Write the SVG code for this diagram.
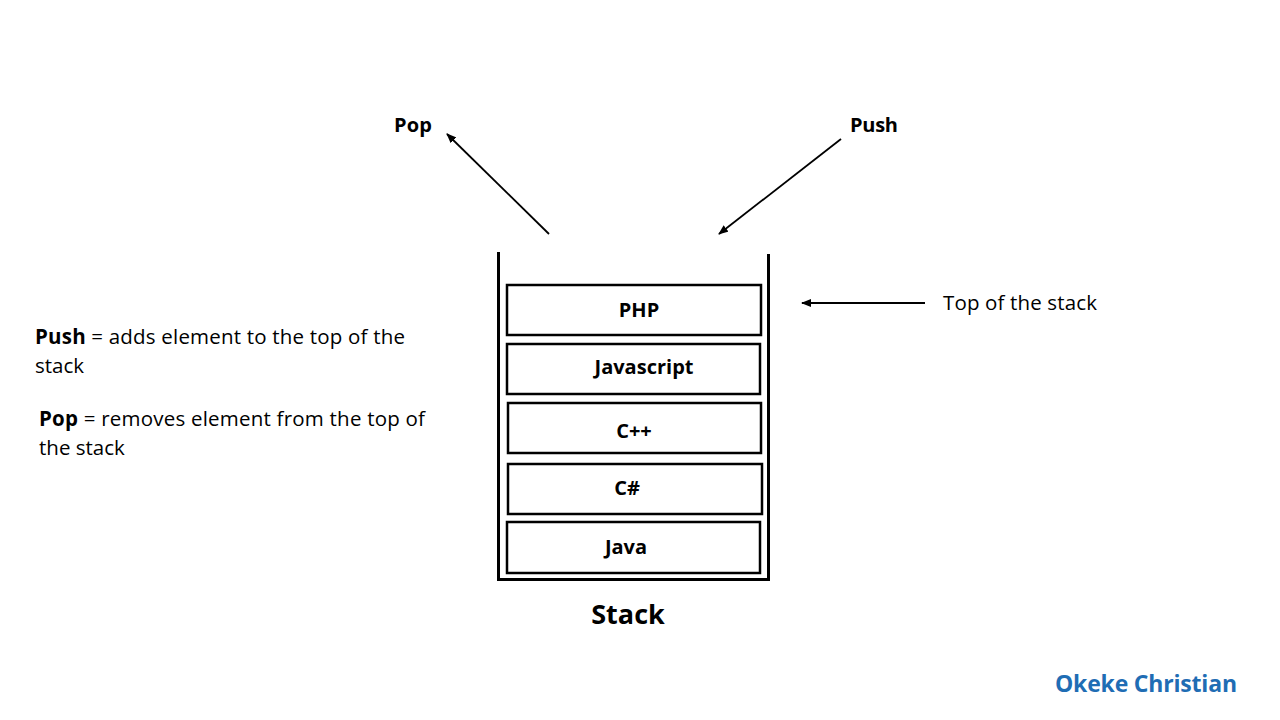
<svg xmlns="http://www.w3.org/2000/svg" width="1280" height="720" viewBox="0 0 1280 720">
<defs>
<marker id="ah" markerWidth="10" markerHeight="8" refX="9" refY="4" orient="auto" markerUnits="userSpaceOnUse">
<path d="M0,0 L10,4 L0,8 Z" fill="#000"/>
</marker>
<style>
text{font-family:"Open Sans",Lato,"Liberation Sans",sans-serif;fill:#000}
.b{font-weight:bold}
.box{fill:#fff;stroke:#000;stroke-width:2.5}
.lbl{font-size:20px;font-weight:bold;text-anchor:middle}
.desc{font-size:20.5px}
.conn{stroke:#000;stroke-width:1.8;fill:none;marker-end:url(#ah)}
</style>
</defs>
<rect width="1280" height="720" fill="#fff"/>
<g id="container">
<path d="M498.5,252 L498.5,579.5 L768.5,579.5 L768.5,254" fill="none" stroke="#000" stroke-width="3"/>
</g>
<g id="php"><rect class="box" x="507" y="285" width="254" height="50"/><text class="lbl" x="639" y="317">PHP</text></g>
<g id="javascript"><rect class="box" x="507" y="344" width="253" height="50"/><text class="lbl" x="644" y="374" textLength="99">Javascript</text></g>
<g id="cpp"><rect class="box" x="508" y="403" width="253" height="50"/><text class="lbl" x="634" y="438">C++</text></g>
<g id="csharp"><rect class="box" x="508" y="464" width="254" height="50"/><text class="lbl" x="627" y="495">C#</text></g>
<g id="java"><rect class="box" x="507" y="522" width="253" height="51"/><text class="lbl" x="626" y="554">Java</text></g>
<g id="connectors">
<line class="conn" x1="549" y1="234" x2="447" y2="134"/>
<line class="conn" x1="841" y1="139" x2="719" y2="234"/>
<line class="conn" x1="925" y1="303" x2="802" y2="303"/>
</g>
<g id="pop-label"><text class="b" x="394" y="132" font-size="20" textLength="38">Pop</text></g>
<g id="push-label"><text class="b" x="850" y="132" font-size="20" textLength="48">Push</text></g>
<g id="top-label"><text class="desc" x="943" y="310" textLength="154">Top of the stack</text></g>
<g id="stack-label"><text class="b" x="628" y="624" font-size="27" text-anchor="middle">Stack</text></g>
<g id="push-desc">
<text class="desc" x="35" y="344" textLength="370"><tspan class="b">Push</tspan> = adds element to the top of the</text>
<text class="desc" x="35" y="373">stack</text>
</g>
<g id="pop-desc">
<text class="desc" x="39" y="426" textLength="386"><tspan class="b">Pop</tspan> = removes element from the top of</text>
<text class="desc" x="39" y="455">the stack</text>
</g>
<g id="author"><text x="1055" y="692" font-size="23" class="b" style="fill:#1F6DB4" textLength="182">Okeke Christian</text></g>
</svg>
